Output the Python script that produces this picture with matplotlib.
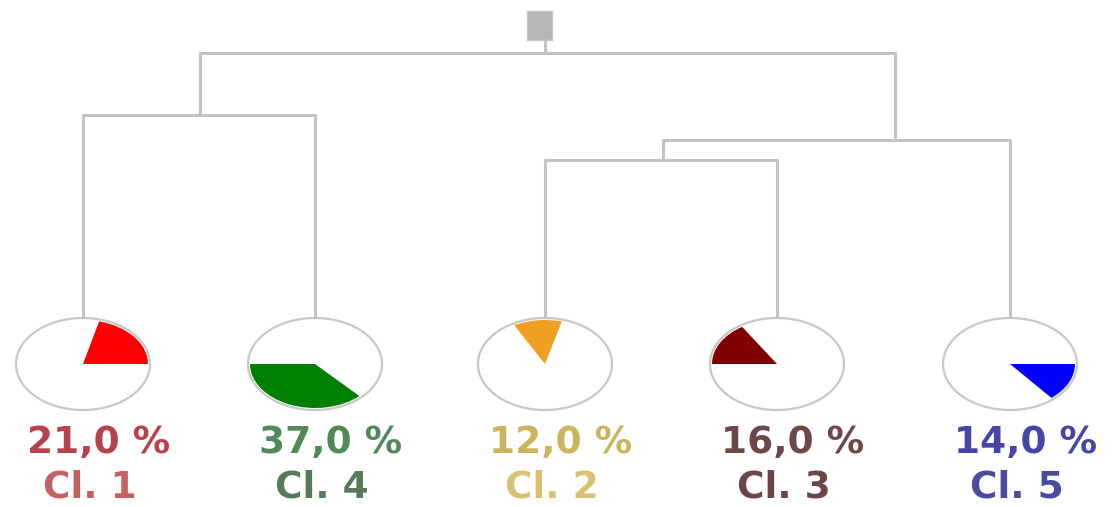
import matplotlib.pyplot as plt
from matplotlib.patches import Wedge, Ellipse, Rectangle
from matplotlib.transforms import Affine2D

# leaves, left to right
clusters = ['Cl. 1', 'Cl. 4', 'Cl. 2', 'Cl. 3', 'Cl. 5']
shares = [21.0, 37.0, 12.0, 16.0, 14.0]
start_angles = [0, 180, 75, 122.4, -50.4]
slice_colors = ['#ff0000', '#008000', '#f0a020', '#800000', '#0000ff']
pct_colors = ['#b8424c', '#4f8a58', '#cdb45a', '#6e4848', '#4646a6']
name_colors = ['#c46262', '#587a58', '#d8c272', '#6a4646', '#4a4aa0']
leaf_x = [83, 315, 545, 777, 1010]

# merges: (left child, right child, node x, height) - leaves are 0..4
merges = [
    (0, 1, 200, 392),
    (2, 3, 663, 347),
    (6, 4, 895, 367),
    (5, 7, 545, 454),
]

LINE = '#c4c4c4'
cy, rx, ry = 143, 67, 46
leaf_top = cy + ry

fig = plt.figure(figsize=(11.14, 5.07), dpi=100)
ax = fig.add_axes([0, 0, 1, 1])
ax.set_xlim(0, 1114)
ax.set_ylim(0, 507)
ax.axis('off')

# dendrogram branches
pos = {i: (x, leaf_top) for i, x in enumerate(leaf_x)}
for k, (a, b, nx, h) in enumerate(merges):
    xa, ya = pos[a]
    xb, yb = pos[b]
    ax.plot([xa, xa, xb, xb], [ya, h, h, yb], color=LINE, lw=2.2,
            solid_joinstyle='round', solid_capstyle='butt')
    pos[len(leaf_x) + k] = (nx, h)

# root stem and box
rx0, rh = pos[len(pos) - 1]
ax.plot([rx0, rx0], [rh, rh + 13], color=LINE, lw=2.2)
ax.add_patch(Rectangle((rx0 - 18, rh + 13), 25, 29, facecolor='#b6b6b6',
                       edgecolor='#c8c8c8', lw=1))

# pies
for i, x in enumerate(leaf_x):
    ax.add_patch(Ellipse((x, cy), 2 * rx, 2 * ry, facecolor='white',
                         edgecolor='#c8c8c8', lw=1.6))
    t1 = start_angles[i]
    t2 = t1 + shares[i] * 3.6
    tr = Affine2D().scale(rx - 2, ry - 2).translate(x, cy) + ax.transData
    ax.add_patch(Wedge((0, 0), 1, t1, t2, facecolor=slice_colors[i],
                       edgecolor='none', transform=tr))
    ax.text(x + 16, 64, f'{shares[i]:.1f} %'.replace('.', ','), ha='center',
            va='center', color=pct_colors[i], fontsize=27, fontweight='bold',
            family='DejaVu Sans')
    ax.text(x + 7, 19, clusters[i], ha='center', va='center',
            color=name_colors[i], fontsize=27, fontweight='bold',
            family='DejaVu Sans')

fig.savefig('out.png', dpi=100, facecolor='white')
